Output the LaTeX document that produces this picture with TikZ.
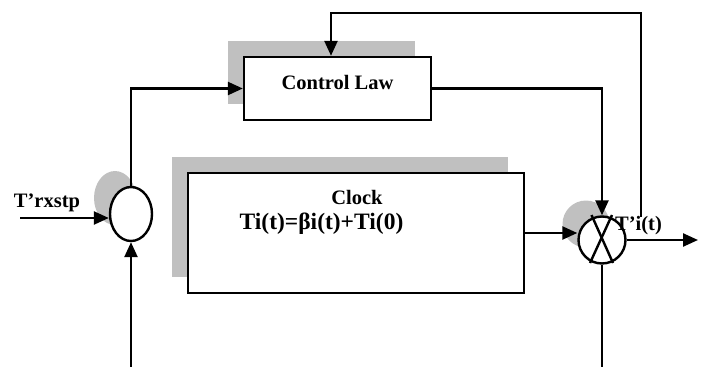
\documentclass[tikz,border=0pt]{standalone}
\usepackage{fontspec}
\setmainfont{Liberation Serif}
\usetikzlibrary{arrows.meta,shapes.geometric,shadows}
\definecolor{shadowgray}{RGB}{192,192,192}

\begin{document}
\begin{tikzpicture}[x=1pt, y=-1pt, line width=2.4pt,
        >={Triangle[length=15pt,width=13pt]},
        font=\fontsize{20.5}{24}\selectfont\bfseries,
        greyshadow/.style={general shadow={fill=shadowgray, draw=none, shadow xshift=-16pt, shadow yshift=16pt}},
        block/.style={draw, fill=white, rectangle, inner sep=0pt, greyshadow},
        junction/.style={draw, fill=white, inner sep=0pt, greyshadow}]
        \useasboundingbox (0,0) rectangle (702,367);

        \node[block, minimum width=187, minimum height=63, text height=14pt, text depth=13pt] (law) at (337.5,88.5) {Control Law};
        \node[block, minimum width=336, minimum height=120] (clock) at (356,233) {};
        \node (clockname) at (357,197) {Clock};
        \node[font=\fontsize{23.5}{28}\selectfont\bfseries] (clockeq) at (321.5,224) {Ti(t)=βi(t)+Ti(0)};

        \node[junction, ellipse, minimum width=42, minimum height=54] (sum) at (131,214) {};
        \node[junction, circle, minimum size=47] (mult) at (602,240) {};
        \draw ([shift={(-10.5,-25)}]mult.center) -- ([shift={(11,23)}]mult.center);
        \draw ([shift={(10,-25)}]mult.center) -- ([shift={(-12,23)}]mult.center);

        \node (rxlabel) at (47,203) {T’rxstp};
        \node (outlabel) at (638.5,226) {T’i(t)};

        \coordinate (rxin) at (20,218);
        \coordinate (sumbot) at (131,367);
        \coordinate (multbot) at (602,367);
        \coordinate (outend) at (698,240);
        \coordinate (fbstart) at (641,217);
        \coordinate (fbtop) at (641,13);

        \draw [->] (rxin) -- (rxin -| sum.west);
        \draw [->] (sumbot) -- (sum.south);
        \draw [->] (sum.north) |- (law.west);
        \draw [->] (law.east) -| (mult.north);
        \draw [->] (clock.east) -- (clock.east -| mult.west);
        \draw [->] (mult.east) -- (outend);
        \draw (mult.south) -- (multbot);
        \draw [->] (fbstart) -- (fbtop) -| ([xshift=-6.5pt]law.north);
    \end{tikzpicture}
\end{document}
